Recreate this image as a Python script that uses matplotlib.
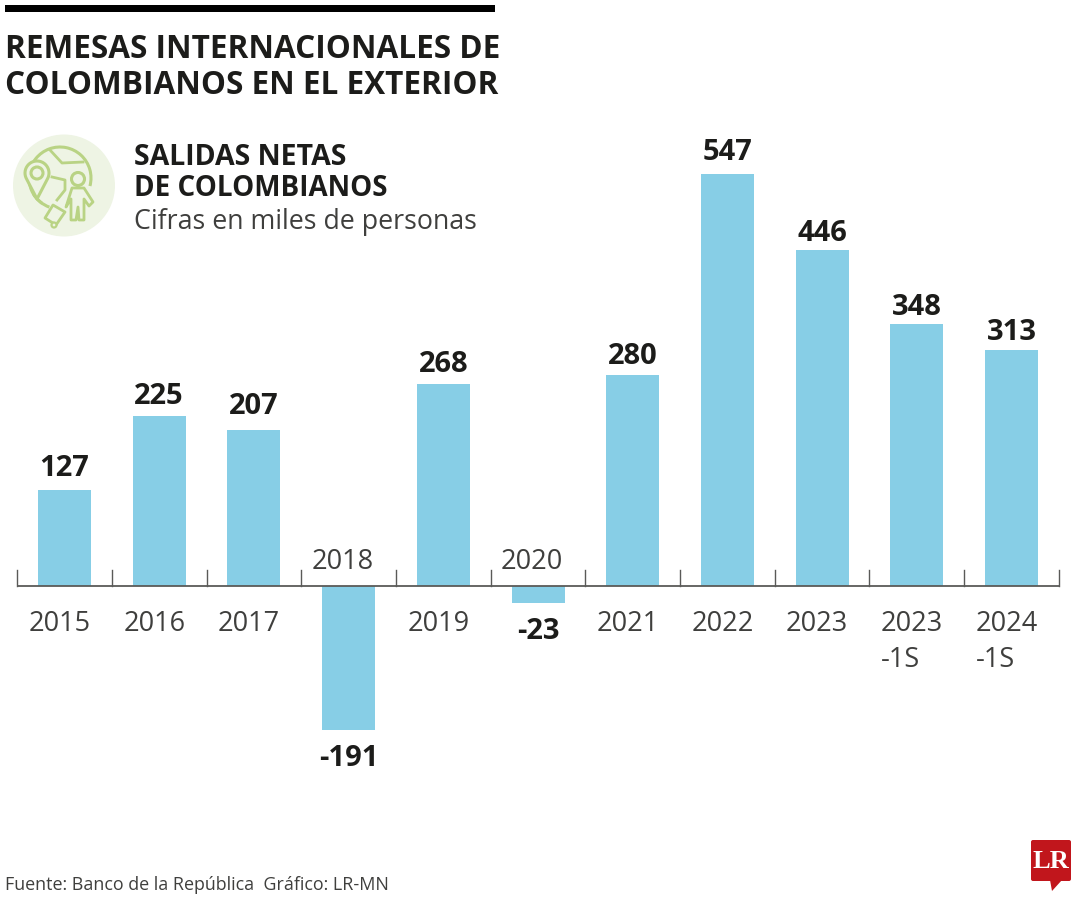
import numpy as np
import matplotlib
matplotlib.use("Agg")
import matplotlib.pyplot as plt
from matplotlib.patches import Circle, Rectangle, Polygon, FancyBboxPatch, Arc

#Data
years = ["2015", "2016", "2017", "2018", "2019", "2020", "2021", "2022", "2023", "2023\n-1S", "2024\n-1S"]
values = [127, 225, 207, -191, 268, -23, 280, 547, 446, 348, 313]

#Small nudges for the value labels, in points (positive goes down)
label_nudge = [0, 1, -1.5, 2, 1.5, 2, 2, 0, 3.5, 3.5, 3]

BLUE = "#87cee6"
DARK = "#1c1c1a"
GREY = "#3f3f3d"
GREEN = "#b9d384"
PALE = "#eef4e4"
RED = "#c1161c"

plt.rcParams['font.family'] = ['Open Sans', 'DejaVu Sans']

fig = plt.figure(figsize=(10.8, 9), dpi=100)

#Bars, scale is set so one category is 94.7 px and one unit is 0.7535 px
step = 94.7
unit = 0.7535
ax = fig.add_axes([0, 0, 1, 1])
ax.set_xlim(-64.5 / step, (1080 - 64.5) / step)
ax.set_ylim(-(900 - 586) / unit, 586 / unit)
ax.axis("off")

x = np.arange(len(values))
ax.bar(x, values, width=53 / step, color=BLUE, linewidth=0)

#Baseline and ticks
ax.plot([x[0] - 0.5, x[-1] + 0.5], [0, 0], color="#5a5a58", lw=1.3, solid_capstyle="butt")
for t in np.arange(len(values) + 1) - 0.5:
    ax.plot([t, t], [0, 16 / unit], color="#5a5a58", lw=1.0)

#Labels
for i, v in enumerate(values):
    if v >= 0:
        ax.annotate(str(v), (i, v), xytext=(0, 5 - label_nudge[i]), textcoords="offset points", ha="center",
                    va="bottom", fontsize=21, fontweight="bold", color=DARK)
        ax.annotate(years[i], (i, 0), xytext=(-3.5, -17), textcoords="offset points", ha="center", va="top",
                    fontsize=19.5, color=GREY, linespacing=1.4, multialignment="left")
    else:
        ax.annotate(str(v), (i, v), xytext=(0, -8 - label_nudge[i]), textcoords="offset points", ha="center",
                    va="top", fontsize=21, fontweight="bold", color=DARK)
        ax.annotate(years[i], (i, 0), xytext=(-4.5, 7), textcoords="offset points", ha="center", va="bottom",
                    fontsize=19.5, color=GREY)

#Overlay in pixel coordinates for header, icon, footer
ov = fig.add_axes([0, 0, 1, 1], facecolor="none")
ov.set_xlim(0, 1080)
ov.set_ylim(900, 0)
ov.axis("off")

ov.add_patch(Rectangle((5, 5), 490, 7, color="black", lw=0))
ov.text(5, 49, "REMESAS INTERNACIONALES DE", fontsize=22.7, fontweight="bold", color=DARK, va="center", ha="left")
ov.text(5, 85, "COLOMBIANOS EN EL EXTERIOR", fontsize=22.7, fontweight="bold", color=DARK, va="center", ha="left")

ov.text(134, 157.5, "SALIDAS NETAS", fontsize=20.5, fontweight="bold", color=DARK, va="center", ha="left")
ov.text(134, 189, "DE COLOMBIANOS", fontsize=20, fontweight="bold", color=DARK, va="center", ha="left")
ov.text(134, 222, "Cifras en miles de personas", fontsize=19.3, color=GREY, va="center", ha="left")

ov.text(5, 885, "Fuente: Banco de la República  Gráfico: LR-MN", fontsize=12.9, color=GREY, va="center", ha="left")

#Icon
ov.add_patch(Circle((64, 185.5), 51, color=PALE, lw=0))
ov.add_patch(Arc((60, 178), 62, 62, theta1=-235, theta2=15, color=GREEN, lw=2.2))
ov.add_patch(Arc((60, 178), 62, 62, theta1=110, theta2=150, color=GREEN, lw=2.2))
ov.plot([50, 62, 83], [150, 163, 162], color=GREEN, lw=2)
ov.plot([52, 65, 65, 57], [177, 180, 190, 200], color=GREEN, lw=2)

theta = np.radians(np.linspace(-30, 210, 30))
pin = np.column_stack([37 + 12 * np.cos(theta), 173 - 12 * np.sin(theta)])
pin = np.vstack([pin, [37, 199]])
ov.add_patch(Polygon(pin, closed=True, facecolor=PALE, edgecolor=GREEN, lw=2.2, joinstyle="round"))
ov.add_patch(Circle((37, 173), 6, facecolor=PALE, edgecolor=GREEN, lw=2.2))

ov.add_patch(Polygon([[72, 188], [84, 188], [93, 202], [89, 206], [84, 199], [84, 220], [79, 220], [78, 207],
                      [76, 220], [71, 220], [71, 199], [66, 207]],
                     closed=True, facecolor=PALE, edgecolor=GREEN, lw=2, joinstyle="round"))
ov.add_patch(Circle((78, 179), 6.5, facecolor=PALE, edgecolor=GREEN, lw=2.2))
ov.add_patch(Polygon([[53, 205], [65, 212], [56, 225], [45, 218]], closed=True, facecolor=PALE, edgecolor=GREEN,
                     lw=2, joinstyle="round"))
ov.add_patch(Circle((54, 225), 2.5, facecolor=PALE, edgecolor=GREEN, lw=1.6))

#Logo
ov.add_patch(FancyBboxPatch((1031, 840), 40, 41, boxstyle="round,pad=0,rounding_size=2", color=RED, lw=0))
ov.add_patch(Polygon([[1050, 880], [1062, 880], [1052, 891]], closed=True, color=RED, lw=0))
ov.text(1051, 861, "LR", fontsize=19, fontweight="bold", color="white", family=["Liberation Serif", "DejaVu Serif"],
        va="center", ha="center")

fig.savefig("out.png", dpi=100)
